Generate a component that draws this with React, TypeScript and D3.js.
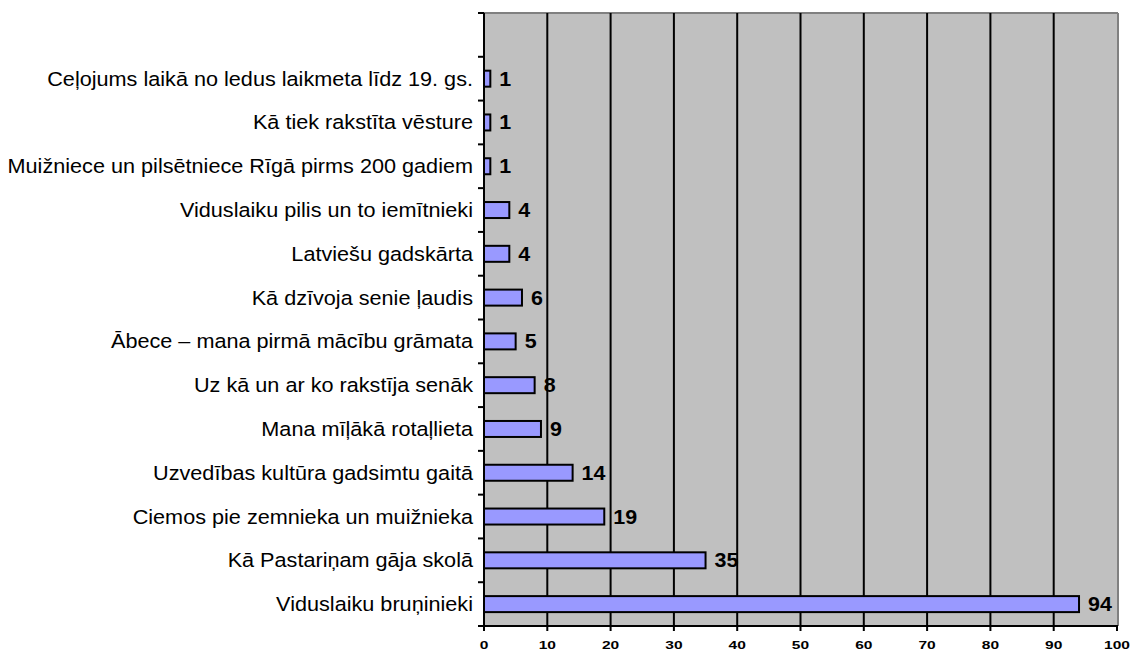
import React from "react";
import * as d3 from "d3";

const categories = [
  "Ceļojums laikā no ledus laikmeta līdz 19. gs.",
  "Kā tiek rakstīta vēsture",
  "Muižniece un pilsētniece Rīgā pirms 200 gadiem",
  "Viduslaiku pilis un to iemītnieki",
  "Latviešu gadskārta",
  "Kā dzīvoja senie ļaudis",
  "Ābece – mana pirmā mācību grāmata",
  "Uz kā un ar ko rakstīja senāk",
  "Mana mīļākā rotaļlieta",
  "Uzvedības kultūra gadsimtu gaitā",
  "Ciemos pie zemnieka un muižnieka",
  "Kā Pastariņam gāja skolā",
  "Viduslaiku bruņinieki",
];
const values = [1, 1, 1, 4, 4, 6, 5, 8, 9, 14, 19, 35, 94];
const xTicks = [0, 10, 20, 30, 40, 50, 60, 70, 80, 90, 100];

export default function App() {
  const W = 1132, H = 654;
  const left = 484, right = 1117, top = 13, bottom = 626;
  const x = d3.scaleLinear().domain([0, 100]).range([left, right]);
  const bandTop = top + (bottom - top) / 14;
  const y = d3.scaleBand<string>().domain(categories).range([bandTop, bottom]).padding(0);
  const bw = y.bandwidth();
  const barH = 16;
  const font = "Liberation Sans, Arial, sans-serif";
  const yTickPos = [top, ...categories.map((c) => y(c)!), bottom];
  return (
    <svg width={W} height={H} style={{ position: "absolute", left: 0, top: 0 }}>
      <rect x={0} y={0} width={W} height={H} fill="#fff" />
      <rect x={left} y={top} width={right - left} height={bottom - top} fill="#C0C0C0" />
      <line x1={left} x2={right + 1} y1={top} y2={top} stroke="#808080" strokeWidth={2} />
      <line x1={right + 1} x2={right + 1} y1={top} y2={bottom} stroke="#808080" strokeWidth={2} />
      {xTicks.slice(1, -1).map((t) => (
        <line key={t} x1={x(t)} x2={x(t)} y1={top} y2={bottom} stroke="#000" strokeWidth={2} />
      ))}
      {categories.map((c, i) => {
        const cy = y(c)! + bw / 2;
        return (
          <g key={c}>
            <rect x={x(0)} y={cy - barH / 2} width={x(values[i]) - x(0)} height={barH} fill="#9999FF" stroke="#000" strokeWidth={2} />
            <text transform={`translate(${x(values[i]) + 9},${cy + 7}) scale(1.1,1)`} fontFamily={font} fontWeight="bold" fontSize={19.5} fill="#000">{values[i]}</text>
            <text transform={`translate(473,${cy + 7}) scale(1.11,1)`} fontFamily={font} fontSize={19.5} textAnchor="end" fill="#000">{c}</text>
          </g>
        );
      })}
      <line x1={left} x2={left} y1={top} y2={bottom + 5} stroke="#000" strokeWidth={2} />
      {yTickPos.map((p, i) => (
        <line key={i} x1={left - 6} x2={left} y1={p} y2={p} stroke="#000" strokeWidth={2} />
      ))}
      <line x1={left - 1} x2={right + 1} y1={bottom} y2={bottom} stroke="#000" strokeWidth={2} />
      {xTicks.map((t) => (
        <g key={t}>
          <line x1={x(t)} x2={x(t)} y1={bottom} y2={bottom + 5} stroke="#000" strokeWidth={2} />
          <text transform={`translate(${x(t)},649) scale(1.35,1)`} fontFamily={font} fontWeight="bold" fontSize={11.5} textAnchor="middle" fill="#000">{t}</text>
        </g>
      ))}
    </svg>
  );
}
